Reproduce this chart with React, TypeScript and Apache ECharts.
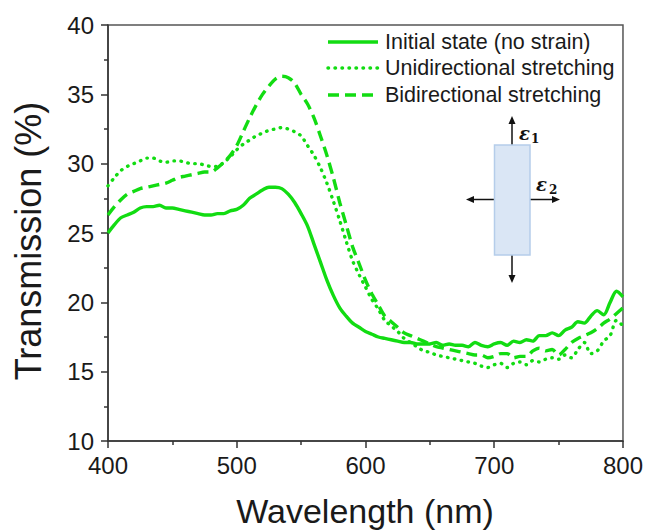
import React, { useEffect, useRef } from "react";
import * as echarts from "echarts";

const wavelengths = [
  400, 405, 410, 415, 420, 425, 430, 435, 440, 445, 450, 455, 460, 465, 470, 475, 480, 485, 490, 495,
  500, 505, 510, 515, 520, 525, 530, 535, 540, 545, 550, 555, 560, 565, 570, 575, 580, 585, 590, 595,
  600, 605, 610, 615, 620, 625, 630, 635, 640, 645, 650, 655, 660, 665, 670, 675, 680, 685, 690, 695,
  700, 705, 710, 715, 720, 725, 730, 735, 740, 745, 750, 755, 760, 765, 770, 775, 780, 785, 790, 795, 800,
];

const initialState = [
  25.0, 25.6, 26.1, 26.3, 26.5, 26.8, 26.9, 26.9, 27.0, 26.8, 26.8, 26.7, 26.6, 26.5, 26.4, 26.3, 26.3, 26.4, 26.4, 26.6,
  26.7, 27.0, 27.5, 27.8, 28.1, 28.3, 28.3, 28.2, 27.8, 27.2, 26.4, 25.5, 24.2, 22.9, 21.6, 20.5, 19.6, 19.0, 18.5, 18.2,
  17.9, 17.7, 17.5, 17.4, 17.3, 17.2, 17.1, 17.1, 17.0, 17.0, 17.0, 17.1, 16.9, 17.0, 16.9, 16.9, 16.8, 17.1, 16.9, 16.8,
  17.0, 17.1, 16.9, 17.2, 17.1, 17.3, 17.2, 17.6, 17.6, 17.8, 17.6, 18.0, 18.2, 18.6, 18.5, 19.0, 19.4, 19.1, 20.0, 20.8, 20.4,
];

const unidirectional = [
  28.4, 29.0, 29.5, 29.8, 30.0, 30.2, 30.4, 30.4, 30.2, 30.1, 30.2, 30.2, 30.1, 30.0, 30.0, 29.9, 29.8, 29.8, 30.1, 30.5,
  31.0, 31.4, 31.7, 32.0, 32.2, 32.4, 32.5, 32.6, 32.5, 32.3, 32.0, 31.3, 30.6, 29.7, 28.6, 27.3, 25.9, 24.4, 23.0, 22.0,
  21.1, 20.2, 19.5, 18.7, 18.3, 17.9, 17.4, 17.1, 16.8, 16.5, 16.4, 16.2, 16.1, 16.0, 15.9, 15.8, 15.7, 15.6, 15.4, 15.3,
  15.5, 15.6, 15.3, 15.6, 15.7, 15.5, 15.8, 15.7, 15.9, 16.0, 15.9, 16.2, 16.0, 16.6, 17.1, 16.3, 16.5, 17.2, 17.6, 18.7, 18.3,
];

const bidirectional = [
  26.3, 26.9, 27.4, 27.8, 28.0, 28.2, 28.3, 28.4, 28.5, 28.6, 28.8, 29.0, 29.1, 29.2, 29.3, 29.4, 29.4, 29.7, 30.1, 30.6,
  31.3, 32.3, 33.3, 34.2, 35.0, 35.6, 36.1, 36.3, 36.2, 35.8, 35.0, 34.3, 33.3, 32.0, 30.6, 29.0, 27.2, 25.6, 24.0, 22.8,
  21.6, 20.6, 19.8, 19.0, 18.6, 18.2, 17.8, 17.6, 17.4, 17.2, 17.0, 16.8, 16.7, 16.6, 16.5, 16.4, 16.3, 16.2, 16.2, 16.0,
  16.1, 16.3, 16.3, 16.0, 16.1, 16.1, 16.5, 16.7, 16.5, 16.6, 16.2, 16.6, 17.1, 17.4, 17.6, 17.8, 18.1, 18.5, 18.8, 19.2, 19.6,
];

const seriesNames = [
  "Initial state (no strain)",
  "Unidirectional stretching",
  "Bidirectional stretching",
];

const xTitle = "Wavelength (nm)";
const yTitle = "Transmission (%)";

const GREEN = "#12dc12";
const FONT = "'Liberation Sans', Arial, sans-serif";

export default function App() {
  const ref = useRef<HTMLDivElement>(null);

  useEffect(() => {
    if (!ref.current) return;
    const chart = echarts.init(ref.current, undefined, { renderer: "svg" });
    const toPairs = (vals: number[]) => wavelengths.map((w, i) => [w, vals[i]]);
    const lineTypes: any[] = ["solid", [0.5, 6.5], [11, 6]];
    const lineCaps: any[] = ["butt", "round", "butt"];
    const allData = [initialState, unidirectional, bidirectional];

    const arrowColor = "#111";
    const cx = 512;
    const cy = 199.5;

    const legendRows = [42, 68, 95];
    const legendGraphics: any[] = [];
    seriesNames.forEach((name, i) => {
      legendGraphics.push({
        type: "line",
        shape: { x1: 328, y1: legendRows[i], x2: 378, y2: legendRows[i] },
        style: {
          stroke: GREEN,
          lineWidth: 3.5,
          lineDash: i === 0 ? null : lineTypes[i],
          lineCap: lineCaps[i],
        },
      });
      legendGraphics.push({
        type: "text",
        x: 385,
        y: legendRows[i],
        style: {
          text: name,
          fontSize: 21.5,
          fontFamily: FONT,
          fill: "#1a1a1a",
          align: "left",
          verticalAlign: "middle",
        },
      });
    });

    chart.setOption({
      animation: false,
      backgroundColor: "#fff",
      grid: {
        left: 108,
        right: 23,
        top: 25,
        bottom: 90,
        show: true,
        borderColor: "#555",
        borderWidth: 1.5,
        backgroundColor: "transparent",
      },
      xAxis: {
        type: "value",
        min: 400,
        max: 800,
        interval: 100,
        axisLine: { show: true, lineStyle: { color: "#333", width: 1.5 } },
        axisTick: { show: true, inside: false, length: 7, lineStyle: { color: "#333", width: 1.5 } },
        minorTick: { show: true, splitNumber: 2, length: 4, lineStyle: { color: "#333", width: 1.5 } },
        axisLabel: { fontSize: 24, fontFamily: FONT, color: "#1a1a1a", margin: 12 },
        splitLine: { show: false },
      },
      yAxis: {
        type: "value",
        min: 10,
        max: 40,
        interval: 5,
        axisLine: { show: true, lineStyle: { color: "#333", width: 1.5 } },
        axisTick: { show: true, inside: false, length: 7, lineStyle: { color: "#333", width: 1.5 } },
        minorTick: { show: true, splitNumber: 2, length: 4, lineStyle: { color: "#333", width: 1.5 } },
        axisLabel: { fontSize: 24, fontFamily: FONT, color: "#1a1a1a", margin: 14 },
        splitLine: { show: false },
      },
      series: seriesNames.map((name, i) => ({
        name,
        type: "line",
        data: toPairs(allData[i]),
        symbol: "none",
        showSymbol: false,
        smooth: 0.3,
        lineStyle: { color: GREEN, width: 3.4, type: lineTypes[i], cap: lineCaps[i] },
        itemStyle: { color: GREEN },
      })),
      graphic: [
        ...legendGraphics,
        {
          type: "text",
          x: 28,
          y: 241,
          rotation: Math.PI / 2,
          style: {
            text: yTitle,
            fontSize: 36,
            fontFamily: FONT,
            fill: "#1a1a1a",
            align: "center",
            verticalAlign: "middle",
          },
        },
        {
          type: "text",
          x: 365,
          y: 511,
          style: {
            text: xTitle,
            fontSize: 34,
            fontFamily: FONT,
            fill: "#1a1a1a",
            align: "center",
            verticalAlign: "middle",
          },
        },
        {
          type: "line",
          shape: { x1: cx, y1: 145, x2: cx, y2: 122 },
          style: { stroke: arrowColor, lineWidth: 1.5 },
        },
        {
          type: "polygon",
          shape: { points: [[cx, 116], [cx - 3.5, 124], [cx + 3.5, 124]] },
          style: { fill: arrowColor },
        },
        {
          type: "line",
          shape: { x1: cx, y1: 255, x2: cx, y2: 277 },
          style: { stroke: arrowColor, lineWidth: 1.5 },
        },
        {
          type: "polygon",
          shape: { points: [[cx, 283], [cx - 3.5, 275], [cx + 3.5, 275]] },
          style: { fill: arrowColor },
        },
        {
          type: "line",
          shape: { x1: 494, y1: cy, x2: 473, y2: cy },
          style: { stroke: arrowColor, lineWidth: 1.5 },
        },
        {
          type: "polygon",
          shape: { points: [[466, cy], [474, cy - 3.5], [474, cy + 3.5]] },
          style: { fill: arrowColor },
        },
        {
          type: "line",
          shape: { x1: 530, y1: cy, x2: 553, y2: cy },
          style: { stroke: arrowColor, lineWidth: 1.5 },
        },
        {
          type: "polygon",
          shape: { points: [[560, cy], [552, cy - 3.5], [552, cy + 3.5]] },
          style: { fill: arrowColor },
        },
        {
          type: "rect",
          shape: { x: 494.5, y: 145, width: 35.5, height: 110 },
          style: { fill: "#dae6f5", stroke: "#b5cdea", lineWidth: 1.5 },
        },
        {
          type: "text",
          x: 519,
          y: 133,
          style: {
            text: "ε",
            fontSize: 18,
            fontStyle: "italic",
            fontWeight: "bold",
            fontFamily: "'DejaVu Serif', serif",
            fill: "#111",
            align: "left",
            verticalAlign: "middle",
          },
        },
        {
          type: "text",
          x: 531,
          y: 139,
          style: {
            text: "1",
            fontSize: 12,
            fontWeight: "bold",
            fontFamily: "'DejaVu Serif', serif",
            fill: "#111",
            align: "left",
            verticalAlign: "middle",
          },
        },
        {
          type: "text",
          x: 536,
          y: 184,
          style: {
            text: "ε",
            fontSize: 18,
            fontStyle: "italic",
            fontWeight: "bold",
            fontFamily: "'DejaVu Serif', serif",
            fill: "#111",
            align: "left",
            verticalAlign: "middle",
          },
        },
        {
          type: "text",
          x: 549,
          y: 190,
          style: {
            text: "2",
            fontSize: 12,
            fontWeight: "bold",
            fontFamily: "'DejaVu Serif', serif",
            fill: "#111",
            align: "left",
            verticalAlign: "middle",
          },
        },
      ],
    });

    return () => chart.dispose();
  }, []);

  return (
    <div
      ref={ref}
      style={{ position: "fixed", left: 0, top: 0, width: 646, height: 531, background: "#fff" }}
    />
  );
}
